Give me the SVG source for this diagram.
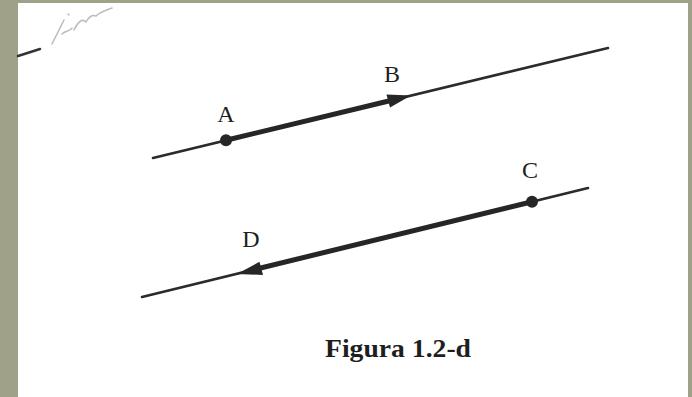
<svg xmlns="http://www.w3.org/2000/svg" width="692" height="397" viewBox="0 0 692 397">
  <defs>
    <style>
      .thin { stroke: #2b2b2b; stroke-width: 2.6; fill: none; stroke-linecap: round; }
      .thick { stroke: #262626; stroke-width: 5; fill: none; stroke-linecap: round; }
      .dot { fill: #262626; }
      .head { fill: #262626; }
      .lbl { font-family: 'Liberation Serif', 'Times New Roman', Times, serif; font-size: 24px; fill: #1e1e1e; text-anchor: middle; }
      .cap { font-family: 'Liberation Serif', 'Times New Roman', Times, serif; font-size: 25px; font-weight: bold; fill: #1e1e1e; }
    </style>
  </defs>
  <rect x="0" y="0" width="692" height="397" fill="#9fa189"/>
  <rect x="18" y="3" width="670" height="394" fill="#ffffff"/>

  <g id="scribble">
    <path d="M18,56 L40,49" stroke="#333" stroke-width="2.5" fill="none" stroke-linecap="round"/>
    <path d="M52,44 C56,36 60,28 64,20 M62,34 C66,30 70,32 72,28 M74,30 C78,22 82,18 86,22 C88,18 92,14 96,16 C100,12 106,10 112,8 M68,14 L69,15" stroke="#bdbdbd" stroke-width="1.6" fill="none" stroke-linecap="round"/>
  </g>

  <g id="connectors">
    <line class="thin" x1="153" y1="158" x2="608" y2="48"/>
    <line class="thick" x1="226" y1="140.3" x2="396" y2="99.2"/>
    <line class="thin" x1="142" y1="297" x2="588" y2="188"/>
    <line class="thick" x1="252" y1="270.1" x2="532" y2="201.7"/>
  </g>

  <g id="node-A">
    <circle class="dot" cx="226" cy="140.3" r="6"/>
    <text class="lbl" x="226" y="122" font-family="Liberation Serif, serif">A</text>
  </g>
  <g id="node-B">
    <polygon class="head" points="411,95.6 386.5,94.4 390,107.6"/>
    <text class="lbl" x="392" y="82" font-family="Liberation Serif, serif">B</text>
  </g>
  <g id="node-C">
    <circle class="dot" cx="532" cy="201.7" r="6"/>
    <text class="lbl" x="530" y="178" font-family="Liberation Serif, serif">C</text>
  </g>
  <g id="node-D">
    <polygon class="head" points="237,273.9 259.5,261.8 263,275"/>
    <text class="lbl" x="251" y="247" font-family="Liberation Serif, serif">D</text>
  </g>

  <g id="caption">
    <text class="cap" x="325" y="357" textLength="146" lengthAdjust="spacingAndGlyphs" font-family="Liberation Serif, serif">Figura 1.2-d</text>
  </g>
</svg>
